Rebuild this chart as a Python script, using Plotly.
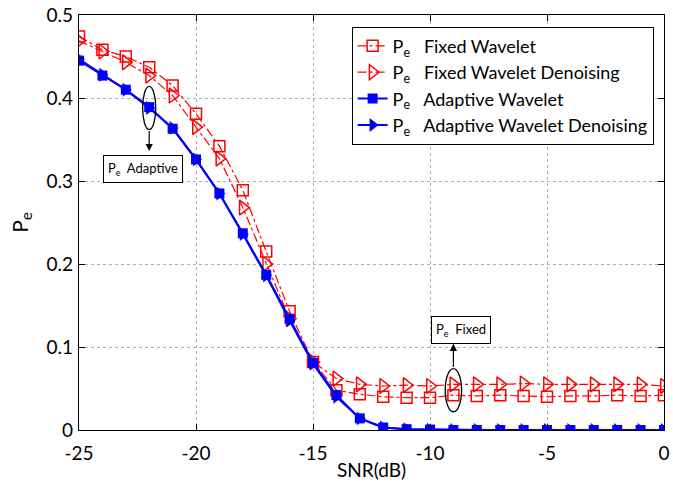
import plotly.graph_objects as go

snr = list(range(-25, 1))

fixed_wavelet = [0.474, 0.458, 0.450, 0.437, 0.415, 0.381, 0.342, 0.289, 0.215, 0.143, 0.082,
                 0.048, 0.043, 0.040, 0.039, 0.039, 0.042, 0.041, 0.042, 0.041, 0.040, 0.041,
                 0.041, 0.042, 0.041, 0.042]
fixed_denoise = [0.469, 0.456, 0.443, 0.427, 0.403, 0.365, 0.327, 0.268, 0.200, 0.134, 0.082,
                 0.062, 0.055, 0.053, 0.054, 0.053, 0.055, 0.055, 0.055, 0.056, 0.055, 0.055,
                 0.055, 0.055, 0.055, 0.053]
adaptive_wavelet = [0.445, 0.427, 0.410, 0.389, 0.363, 0.326, 0.285, 0.237, 0.187, 0.134, 0.081,
                    0.042, 0.014, 0.003, 0.001, 0.0005, 0.0, 0.0, 0.0, 0.0, 0.0, 0.0,
                    0.0, 0.0, 0.0, 0.0]
adaptive_denoise = [0.447, 0.428, 0.410, 0.388, 0.364, 0.326, 0.285, 0.236, 0.186, 0.132, 0.080,
                    0.040, 0.014, 0.003, 0.001, 0.0005, 0.0, 0.0, 0.0, 0.0, 0.0, 0.0,
                    0.0, 0.0, 0.0, 0.0]

x_ticks = [-25, -20, -15, -10, -5, 0]
x_tick_text = ["-25", "-20", "-15", "-10", "-5", "0"]
y_ticks = [0, 0.1, 0.2, 0.3, 0.4, 0.5]
y_tick_text = ["0", "0.1", "0.2", "0.3", "0.4", "0.5"]

RED = "#ff0000"
BLUE = "#0000ff"
FONT = "Lato"

fig = go.Figure()
fig.add_trace(go.Scatter(
    x=snr, y=fixed_wavelet, mode="lines+markers",
    name="P<sub>e</sub>   Fixed Wavelet",
    line=dict(color=RED, width=1.2, dash="dashdot"),
    marker=dict(symbol="square-open", size=11, color=RED, line=dict(width=1.5, color=RED))))
fig.add_trace(go.Scatter(
    x=snr, y=fixed_denoise, mode="lines+markers",
    name="P<sub>e</sub>   Fixed Wavelet Denoising",
    line=dict(color=RED, width=1.2, dash="dashdot"),
    marker=dict(symbol="triangle-right-open", size=13, color=RED, line=dict(width=1.5, color=RED))))
fig.add_trace(go.Scatter(
    x=snr, y=adaptive_wavelet, mode="lines+markers",
    name="P<sub>e</sub>   Adaptive Wavelet",
    line=dict(color=BLUE, width=2),
    marker=dict(symbol="square", size=10, color=BLUE)))
fig.add_trace(go.Scatter(
    x=snr, y=adaptive_denoise, mode="lines+markers",
    name="P<sub>e</sub>   Adaptive Wavelet Denoising",
    line=dict(color=BLUE, width=2),
    marker=dict(symbol="triangle-right", size=12, color=BLUE)))

# ellipses
fig.add_shape(type="circle", xref="x", yref="y", x0=-22.28, x1=-21.72, y0=0.362, y1=0.414,
              line=dict(color="black", width=1.3))
fig.add_shape(type="circle", xref="x", yref="y", x0=-9.35, x1=-8.65, y0=0.022, y1=0.074,
              line=dict(color="black", width=1.3))

# arrows
fig.add_annotation(x=-22, y=0.336, ax=-22, ay=0.362, xref="x", yref="y", axref="x", ayref="y",
                   text="", showarrow=True, arrowhead=2, arrowsize=1.2, arrowwidth=1.2, arrowcolor="black")
fig.add_annotation(x=-9, y=0.104, ax=-9, ay=0.074, xref="x", yref="y", axref="x", ayref="y",
                   text="", showarrow=True, arrowhead=2, arrowsize=1.2, arrowwidth=1.2, arrowcolor="black")

# label boxes
fig.add_annotation(x=-22.27, y=0.315, xref="x", yref="y", showarrow=False,
                   text="P<sub>e</sub>  Adaptive", font=dict(family=FONT, size=13, color="black"),
                   bordercolor="black", borderwidth=1, borderpad=4, bgcolor="white")
fig.add_annotation(x=-8.69, y=0.121, xref="x", yref="y", showarrow=False,
                   text="P<sub>e</sub>  Fixed", font=dict(family=FONT, size=13, color="black"),
                   bordercolor="black", borderwidth=1, borderpad=4, bgcolor="white")

axis_common = dict(
    showline=True, linecolor="black", linewidth=1.3, mirror="ticks",
    ticks="inside", ticklen=6, tickcolor="black", tickwidth=1,
    showgrid=True, gridcolor="#b0b0b0", griddash="dot", gridwidth=1,
    zeroline=False, tickfont=dict(family=FONT, size=19, color="black"),
    ticklabeloverflow="allow",
)

fig.update_xaxes(range=[-25, 0], tickvals=x_ticks, ticktext=x_tick_text, ticklabelstandoff=6,
                 title=dict(text="SNR(dB)", font=dict(family=FONT, size=19, color="black"), standoff=0),
                 **axis_common)
fig.update_yaxes(range=[0, 0.5], tickvals=y_ticks, ticktext=y_tick_text, ticklabelstandoff=1,
                 title=dict(text="P<sub>e</sub>", font=dict(family=FONT, size=21, color="black"), standoff=12),
                 **axis_common)

fig.update_layout(
    width=673, height=483,
    margin=dict(l=79, r=3, t=10, b=53),
    plot_bgcolor="white", paper_bgcolor="white",
    font=dict(family=FONT, color="black"),
    legend=dict(x=0.466, y=0.972, xanchor="left", yanchor="top",
                bordercolor="black", borderwidth=1, bgcolor="white",
                font=dict(family=FONT, size=18, color="black"),
                tracegroupgap=0, itemwidth=30),
    showlegend=True,
)

fig.write_html("out.html")
